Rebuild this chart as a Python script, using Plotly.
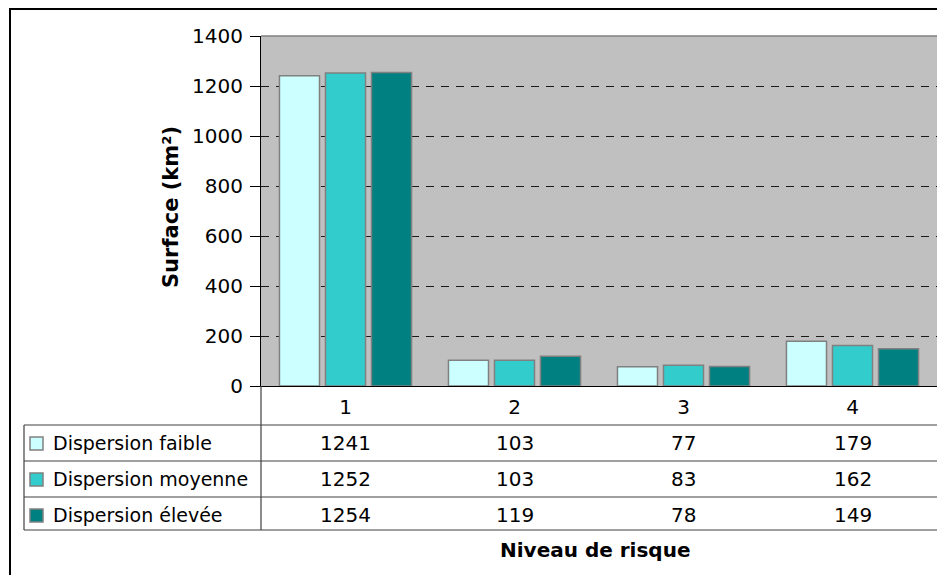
import plotly.graph_objects as go

# Risk levels and surface (km²) per dispersion scenario
categories = ["1", "2", "3", "4"]
series_names = ["Dispersion faible", "Dispersion moyenne", "Dispersion élevée"]
faible = [1241, 103, 77, 179]
moyenne = [1252, 103, 83, 162]
elevee = [1254, 119, 78, 149]
series_values = [faible, moyenne, elevee]
colors = ["#CCFFFF", "#33CCCC", "#008080"]
y_ticks = [0, 200, 400, 600, 800, 1000, 1200, 1400]

W, H = 937, 575
L, R, T, B = 261, 0, 36, 189
FONT = "DejaVu Sans"
FS_NUM = 20
FS_TXT = 19


def px(xp):
    return (xp - L) / (W - L - R)


def py(yp):
    return (H - B - yp) / (H - T - B)


fig = go.Figure()
for name, vals, col in zip(series_names, series_values, colors):
    fig.add_trace(go.Bar(
        x=categories, y=vals, name=name,
        marker=dict(color=col, line=dict(color="#808080", width=1.5)),
        showlegend=False,
    ))

shapes = []
annotations = []

# Outer chart frame
shapes.append(dict(type="rect", xref="paper", yref="paper",
                   x0=px(10), x1=px(960), y0=py(9), y1=py(600),
                   line=dict(color="black", width=2), fillcolor="rgba(0,0,0,0)", layer="above"))
# Plot area top border
shapes.append(dict(type="line", xref="paper", yref="paper",
                   x0=0, x1=1, y0=1, y1=1, line=dict(color="#808080", width=1.5)))

# Data table grid
row_lines = [425, 461, 497, 530]
for yl in row_lines:
    shapes.append(dict(type="line", xref="paper", yref="paper",
                       x0=px(24), x1=px(940), y0=py(yl), y1=py(yl),
                       line=dict(color="#404040", width=1.2)))
shapes.append(dict(type="line", xref="paper", yref="paper",
                   x0=0, x1=0, y0=0, y1=py(530), line=dict(color="#404040", width=1.2)))
shapes.append(dict(type="line", xref="paper", yref="paper",
                   x0=px(24), x1=px(24), y0=py(425), y1=py(530),
                   line=dict(color="#404040", width=1.2)))

row_centers = [443, 479, 515]
for name, vals, col, yc in zip(series_names, series_values, colors, row_centers):
    # legend key
    shapes.append(dict(type="rect", xref="paper", yref="paper",
                       x0=px(30), x1=px(43), y0=py(yc - 6), y1=py(yc + 7),
                       fillcolor=col, line=dict(color="#808080", width=1.5)))
    annotations.append(dict(xref="paper", yref="paper", x=px(51), y=py(yc),
                            text=name, showarrow=False, xanchor="left", yanchor="middle",
                            font=dict(family=FONT, size=FS_TXT, color="black")))
    # one value per category column, placed on the category axis
    for idx, v in enumerate(vals):
        annotations.append(dict(xref="x", yref="paper", x=idx, y=py(yc),
                                text=str(v), showarrow=False, xanchor="center", yanchor="middle",
                                font=dict(family=FONT, size=FS_NUM, color="black")))

# Axis titles
annotations.append(dict(xref="paper", yref="paper", x=px(171), y=py(207), text="<b>Surface (km²)</b>",
                        textangle=-90, showarrow=False, xanchor="center", yanchor="middle",
                        font=dict(family=FONT, size=21, color="black")))
annotations.append(dict(xref="paper", yref="paper", x=px(595), y=py(550), text="<b>Niveau de risque</b>",
                        showarrow=False, xanchor="center", yanchor="middle",
                        font=dict(family=FONT, size=20, color="black")))

fig.update_layout(
    width=W, height=H,
    margin=dict(l=L, r=R, t=T, b=B, pad=0),
    paper_bgcolor="white", plot_bgcolor="#C0C0C0",
    barmode="group", bargap=0.183, bargroupgap=0.13,
    shapes=shapes, annotations=annotations,
    font=dict(family=FONT, size=FS_NUM, color="black"),
)
fig.update_yaxes(
    range=[0, 1400], tickvals=y_ticks, ticks="outside", ticklen=10, tickcolor="black",
    showline=True, linecolor="black", linewidth=1,
    showgrid=True, gridcolor="#1a1a1a", griddash="8px,7px", gridwidth=1,
    zeroline=False, ticklabelstandoff=3,
    tickfont=dict(family=FONT, size=FS_NUM, color="black"),
)
fig.update_xaxes(
    type="category", range=[-0.5, 3.5],
    showline=True, linecolor="black", linewidth=1, ticks="",
    tickfont=dict(family=FONT, size=FS_NUM, color="black"), ticklabelstandoff=3,
)

fig.write_html("out.html")
